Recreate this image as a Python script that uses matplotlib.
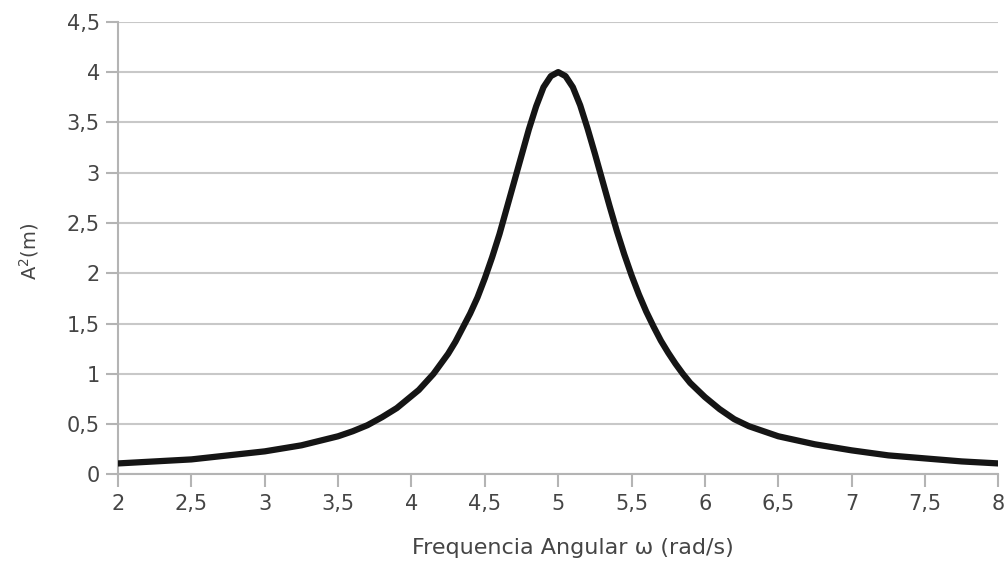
import matplotlib
matplotlib.use("Agg")
import matplotlib.pyplot as plt
from matplotlib.ticker import FuncFormatter

plt.rcParams['font.family'] = ['DejaVu Sans']
plt.rcParams['mathtext.fontset'] = 'dejavusans'

# valores
omega = [2.0, 2.25, 2.5, 2.75, 3.0, 3.25, 3.5, 3.6, 3.7, 3.8, 3.9,
         4.0, 4.05, 4.1, 4.15, 4.2, 4.25, 4.3, 4.35, 4.4, 4.45,
         4.5, 4.55, 4.6, 4.65, 4.7, 4.75, 4.8, 4.85, 4.9, 4.95,
         5.0, 5.05, 5.1, 5.15, 5.2, 5.25, 5.3, 5.35, 5.4, 5.45,
         5.5, 5.55, 5.6, 5.65, 5.7, 5.75, 5.8, 5.85, 5.9, 6.0,
         6.1, 6.2, 6.3, 6.4, 6.5, 6.75, 7.0, 7.25, 7.5, 7.75, 8.0]
amp2 = [0.11, 0.13, 0.15, 0.19, 0.23, 0.29, 0.38, 0.43, 0.49, 0.57, 0.66,
        0.78, 0.84, 0.92, 1.00, 1.10, 1.20, 1.32, 1.46, 1.60, 1.76,
        1.95, 2.16, 2.39, 2.65, 2.91, 3.17, 3.43, 3.66, 3.85, 3.96,
        4.00, 3.96, 3.85, 3.67, 3.44, 3.19, 2.93, 2.67, 2.42, 2.19,
        1.98, 1.79, 1.62, 1.47, 1.33, 1.21, 1.10, 1.00, 0.91, 0.77,
        0.65, 0.55, 0.48, 0.43, 0.38, 0.30, 0.24, 0.19, 0.16, 0.13, 0.11]
xticks = [2, 2.5, 3, 3.5, 4, 4.5, 5, 5.5, 6, 6.5, 7, 7.5, 8]
yticks = [0, 0.5, 1, 1.5, 2, 2.5, 3, 3.5, 4, 4.5]

fig = plt.figure(figsize=(10.07, 5.63), dpi=100)
ax = fig.add_axes([0.1172, 0.1572, 0.8742, 0.8041])

ax.plot(omega, amp2, color='#151515', lw=4.5, solid_capstyle='round',
        solid_joinstyle='round', zorder=3)

ax.set_xlim(2, 8)
ax.set_ylim(0, 4.5)
ax.set_xticks(xticks)
ax.set_yticks(yticks)
fmt = FuncFormatter(lambda v, p: ('%g' % v).replace('.', ','))
ax.xaxis.set_major_formatter(fmt)
ax.yaxis.set_major_formatter(fmt)

ax.grid(axis='y', color='#c8c8c8', lw=1.5)
ax.set_axisbelow(True)
for s in ['top', 'right']:
    ax.spines[s].set_visible(False)
for s in ['left', 'bottom']:
    ax.spines[s].set_color('#b4b4b4')
    ax.spines[s].set_linewidth(1.5)
ax.tick_params(axis='both', colors='#b4b4b4', width=1.5, length=9,
               labelsize=15, labelcolor='#454545')
ax.tick_params(axis='y', pad=4)
ax.tick_params(axis='x', pad=5)

fig.text(0.5685, 0.026, 'Frequencia Angular ω (rad/s)', ha='center', va='center',
         fontsize=16, color='#454545')
fig.text(0.029, 0.553, 'A$^2$(m)', rotation=90, ha='center', va='center',
         fontsize=14, color='#454545')

fig.savefig('out.png', dpi=100)
